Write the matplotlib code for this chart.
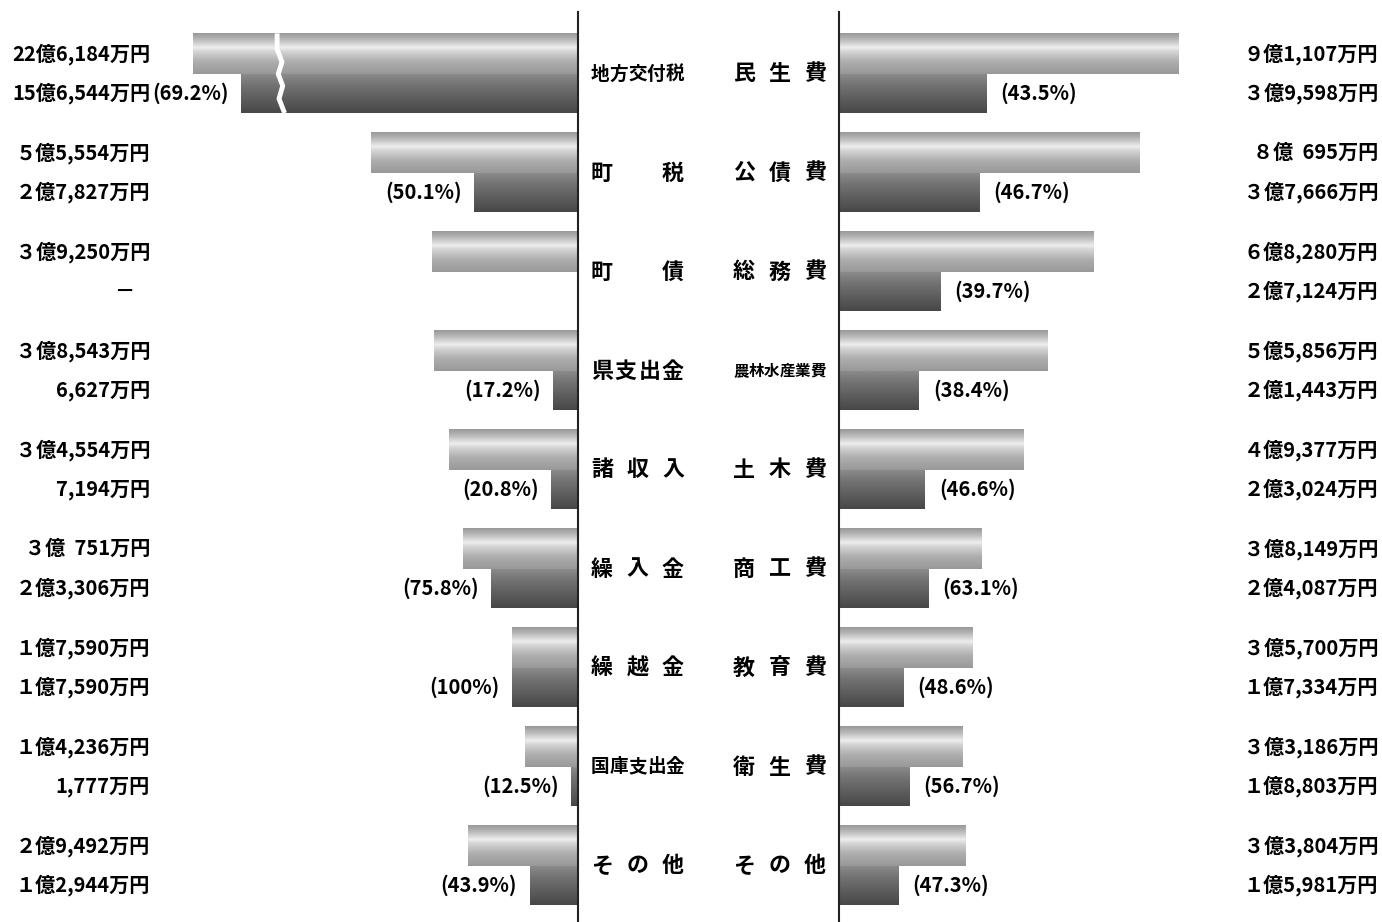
import numpy as np
import matplotlib
matplotlib.use("Agg")
import matplotlib.pyplot as plt
from matplotlib import transforms

# 歳入 (left) / 歳出 (right), amounts in 万円
rev_cats = ['地方交付税', '町税', '町債', '県支出金', '諸収入', '繰入金', '繰越金', '国庫支出金', 'その他']
rev_budget = [226184, 55554, 39250, 38543, 34554, 30751, 17590, 14236, 29492]
rev_actual = [156544, 27827, 0, 6627, 7194, 23306, 17590, 1777, 12944]
rev_pct = ['69.2%', '50.1%', '', '17.2%', '20.8%', '75.8%', '100%', '12.5%', '43.9%']

exp_cats = ['民生費', '公債費', '総務費', '農林水産業費', '土木費', '商工費', '教育費', '衛生費', 'その他']
exp_budget = [91107, 80695, 68280, 55856, 49377, 38149, 35700, 33186, 33804]
exp_actual = [39598, 37666, 27124, 21443, 23024, 24087, 17334, 18803, 15981]
exp_pct = ['43.5%', '46.7%', '39.7%', '38.4%', '46.6%', '63.1%', '48.6%', '56.7%', '47.3%']

W, H = 1382, 922
PX = 37.3              # pixels per 億円
CAP, SQ = 7.55, 0.184  # broken-bar compression on the left side
NUM_FONT = ['Noto Sans CJK JP', 'DejaVu Sans']
JP_FONT = ['Noto Sans CJK JP', 'DejaVu Sans']
FS = 14.5

light_grad = np.interp(np.linspace(0, 1, 60), [0, 0.15, 0.35, 0.45, 0.7, 1],
                       [0.6, 0.72, 0.93, 0.83, 0.68, 0.6])
dark_grad = np.interp(np.linspace(0, 1, 60), [0, 0.3, 1], [0.55, 0.45, 0.28])


def squash(v):
    return v if v <= CAP else CAP + (v - CAP) * SQ


def yen(v):
    if v == 0:
        return '－'
    oku, man = divmod(v, 10000)
    if oku == 0:
        return f'{man:,}万円'
    o = str(oku) if oku >= 10 else chr(0xFF10 + oku)
    m = f'{man:,}' if man >= 1000 else f'  {man}'
    return f'{o}億{m}万円'


def grad_bars(ax, y, widths, h, grad):
    bars = ax.barh(y, widths, height=h, align='edge', facecolor='none', edgecolor='none')
    for b in bars:
        x0, y0, w, hh = b.get_x(), b.get_y(), b.get_width(), b.get_height()
        if w == 0:
            continue
        im = ax.imshow(grad[:, None], cmap='gray', vmin=0, vmax=1, aspect='auto',
                       extent=(x0, x0 + w, y0 + hh, y0), interpolation='bilinear', zorder=2)
        im.set_clip_path(b)
    return bars


fig = plt.figure(figsize=(W / 100, H / 100), dpi=100)
left = fig.add_axes([0, 0, 578 / W, 1])
right = fig.add_axes([839 / W, 0, (W - 839) / W, 1])

y = np.arange(len(rev_cats))
ytop, ybot = -74 / 99, (H - 74) / 99
LH, DH = 0.41, 0.395

rb = np.array(rev_budget) / 10000
ra = np.array(rev_actual) / 10000
eb = np.array(exp_budget) / 10000
ea = np.array(exp_actual) / 10000

rb_s = np.array([squash(v) for v in rb])
ra_s = np.array([squash(v) for v in ra])

grad_bars(left, y - LH, rb_s, LH, light_grad)
grad_bars(left, y, ra_s, DH, dark_grad)
grad_bars(right, y - LH, eb, LH, light_grad)
grad_bars(right, y, ea, DH, dark_grad)

for ax in (left, right):
    ax.set_ylim(ybot, ytop)
    ax.axis('off')
    ax.axvline(0, ymin=0, ymax=1 - 12 / H, color='#222222', lw=1.5, clip_on=False, zorder=5)
left.set_xlim(578 / PX, 0)
right.set_xlim(0, (W - 839) / PX)

# break mark on the compressed revenue bar
for i in range(len(rb)):
    if rb[i] > CAP:
        bx = (578 - 279) / PX
        xs = bx + np.array([0.05, 0.05, -0.08, 0.02, -0.1, 0.0, -0.15])
        ys = y[i] + np.array([-LH, -0.25, -0.12, 0.0, 0.12, 0.25, DH])
        left.plot(xs, ys, color='white', lw=3.5, zorder=4, solid_capstyle='butt')

# value labels
tl = transforms.blended_transform_factory(fig.transFigure, left.transData)
for i in range(len(y)):
    fig.text(150 / W, y[i] - LH / 2, yen(rev_budget[i]), transform=tl, ha='right', va='center',
             family=NUM_FONT, weight='bold', fontsize=FS)
    if rev_actual[i] == 0:
        fig.text(124 / W, y[i] + DH / 2, yen(0), transform=tl, ha='center', va='center',
                 family=NUM_FONT, weight='bold', fontsize=FS)
    else:
        fig.text(150 / W, y[i] + DH / 2, yen(rev_actual[i]), transform=tl, ha='right', va='center',
                 family=NUM_FONT, weight='bold', fontsize=FS)
    fig.text(1378 / W, y[i] - LH / 2, yen(exp_budget[i]), transform=tl, ha='right', va='center',
             family=NUM_FONT, weight='bold', fontsize=FS)
    fig.text(1378 / W, y[i] + DH / 2, yen(exp_actual[i]), transform=tl, ha='right', va='center',
             family=NUM_FONT, weight='bold', fontsize=FS)

# percentages
for i in range(len(y)):
    if rev_pct[i]:
        left.annotate(f'({rev_pct[i]})', xy=(ra_s[i], y[i] + DH / 2), xytext=(-9, 0),
                      textcoords='offset points', ha='right', va='center',
                      family=NUM_FONT, weight='bold', fontsize=FS)
    right.annotate(f'({exp_pct[i]})', xy=(ea[i], y[i] + DH / 2), xytext=(10, 0),
                   textcoords='offset points', ha='left', va='center',
                   family=NUM_FONT, weight='bold', fontsize=FS)


# category names, justified across their slot
def spread(label, x0, x1, yy):
    n = len(label)
    span = x1 - x0
    w = min(22.0, span / n)
    for k, ch in enumerate(label):
        cx = x0 + w / 2 + (k * (span - w) / (n - 1) if n > 1 else (span - w) / 2)
        fig.text(cx / W, yy, ch, transform=tl, ha='center', va='center',
                 family=JP_FONT, weight='bold', fontsize=w * 0.72)


for i in range(len(y)):
    spread(rev_cats[i], 591, 684, y[i])
    spread(exp_cats[i], 733, 826, y[i])

fig.savefig('out.png', dpi=100)
